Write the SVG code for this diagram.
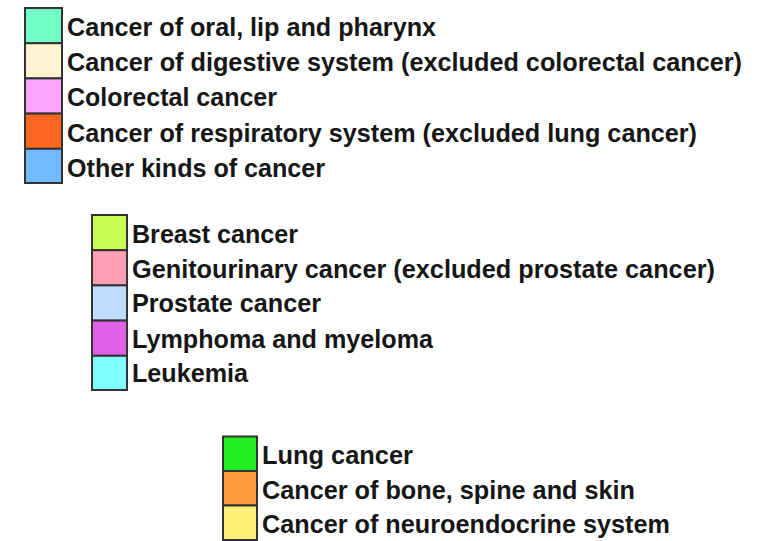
<svg xmlns="http://www.w3.org/2000/svg" width="769" height="541" viewBox="0 0 769 541">
<style>
.sw{stroke:#333;stroke-width:2}
.t{font-family:"Liberation Sans",Arial,sans-serif;font-weight:bold;font-size:25px;fill:#161616}
</style>
<rect width="769" height="541" fill="#fff"/>
<g id="legend1">
<rect class="sw" x="25" y="8" width="37" height="35.2" fill="#73FFC8"/>
<rect class="sw" x="25" y="43.2" width="37" height="35.2" fill="#FFF3D2"/>
<rect class="sw" x="25" y="78.4" width="37" height="35.2" fill="#FFA5FF"/>
<rect class="sw" x="25" y="113.6" width="37" height="35.2" fill="#FF6620"/>
<rect class="sw" x="25" y="148.8" width="37" height="34.2" fill="#70BBFF"/>
<text class="t" x="67" y="36" textLength="369" lengthAdjust="spacingAndGlyphs">Cancer of oral, lip and pharynx</text>
<text class="t" x="67" y="71" textLength="675" lengthAdjust="spacingAndGlyphs">Cancer of digestive system (excluded colorectal cancer)</text>
<text class="t" x="67" y="106" textLength="210" lengthAdjust="spacingAndGlyphs">Colorectal cancer</text>
<text class="t" x="67" y="141.5" textLength="630" lengthAdjust="spacingAndGlyphs">Cancer of respiratory system (excluded lung cancer)</text>
<text class="t" x="67" y="176.5" textLength="258" lengthAdjust="spacingAndGlyphs">Other kinds of cancer</text>
</g>
<g id="legend2">
<rect class="sw" x="92" y="215" width="35" height="35.2" fill="#C7FF55"/>
<rect class="sw" x="92" y="250.2" width="35" height="35.2" fill="#FF9EB5"/>
<rect class="sw" x="92" y="285.4" width="35" height="35.2" fill="#BDDCFF"/>
<rect class="sw" x="92" y="320.6" width="35" height="35.2" fill="#E060E8"/>
<rect class="sw" x="92" y="355.8" width="35" height="34.2" fill="#80FFFF"/>
<text class="t" x="132" y="242.7" textLength="166" lengthAdjust="spacingAndGlyphs">Breast cancer</text>
<text class="t" x="132" y="277.7" textLength="583" lengthAdjust="spacingAndGlyphs">Genitourinary cancer (excluded prostate cancer)</text>
<text class="t" x="132" y="311.7" textLength="189" lengthAdjust="spacingAndGlyphs">Prostate cancer</text>
<text class="t" x="132" y="347.7" textLength="301" lengthAdjust="spacingAndGlyphs">Lymphoma and myeloma</text>
<text class="t" x="132" y="381.7" textLength="116" lengthAdjust="spacingAndGlyphs">Leukemia</text>
</g>
<g id="legend3">
<rect class="sw" x="223" y="436.5" width="34" height="34.5" fill="#22EE22"/>
<rect class="sw" x="223" y="471" width="34" height="34.5" fill="#FF9940"/>
<rect class="sw" x="223" y="505.5" width="34" height="34.5" fill="#FFEE77"/>
<text class="t" x="262" y="464.3" textLength="151" lengthAdjust="spacingAndGlyphs">Lung cancer</text>
<text class="t" x="262" y="499" textLength="373" lengthAdjust="spacingAndGlyphs">Cancer of bone, spine and skin</text>
<text class="t" x="262" y="533.3" textLength="408" lengthAdjust="spacingAndGlyphs">Cancer of neuroendocrine system</text>
</g>
</svg>
